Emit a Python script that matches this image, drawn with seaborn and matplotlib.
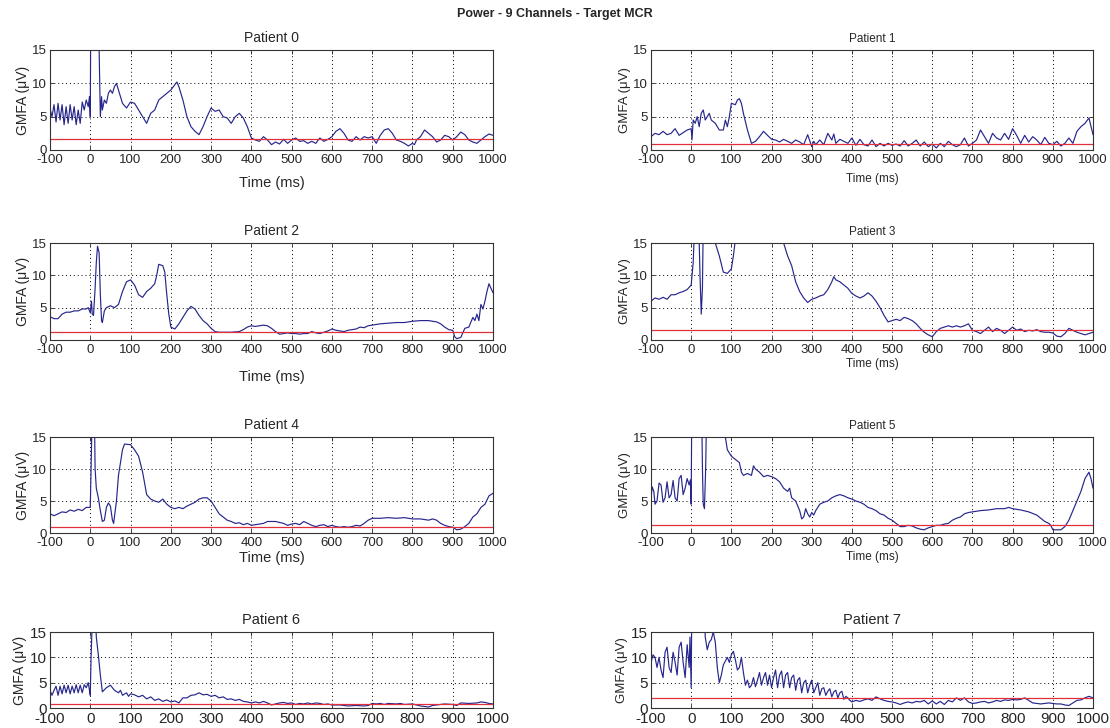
import numpy as np
import pandas as pd
import seaborn as sns
import matplotlib
matplotlib.use("Agg")
import matplotlib.pyplot as plt

# GMFA traces: (time in ms, value in uV)
p0 = [(-100, 6.2), (-95, 5.0), (-90, 6.8), (-85, 4.2), (-80, 7.0), (-75, 4.5), (-70, 6.8), (-65, 3.8),
      (-60, 6.5), (-55, 4.0), (-50, 6.8), (-45, 4.5), (-40, 6.5), (-35, 3.8), (-30, 6.0), (-25, 4.0),
      (-20, 7.2), (-15, 6.0), (-10, 7.5), (-5, 6.5), (-2, 8.0), (0, 5.0), (1, 18), (5, 25), (10, 25),
      (18, 20), (22, 15), (25, 5.0), (28, 8.0), (30, 6.0), (35, 7.5), (40, 7.0), (45, 8.5), (50, 9.0),
      (55, 8.5), (60, 9.5), (65, 10.0), (70, 9.0), (80, 7.0), (90, 6.3), (100, 7.2), (110, 7.0),
      (120, 6.0), (130, 5.0), (140, 4.0), (150, 5.5), (160, 6.0), (170, 7.5), (180, 8.0), (190, 8.5),
      (200, 9.0), (210, 9.8), (215, 10.2), (220, 9.5), (230, 7.5), (240, 5.0), (250, 3.5), (260, 2.8),
      (270, 2.3), (280, 3.5), (290, 5.0), (300, 6.3), (310, 5.8), (320, 6.0), (330, 5.0), (340, 4.8),
      (350, 4.0), (360, 5.0), (370, 5.5), (380, 4.8), (390, 3.5), (400, 1.8), (410, 1.5), (420, 1.3),
      (430, 2.0), (440, 1.5), (450, 0.8), (460, 1.2), (470, 0.9), (480, 1.6), (490, 1.0), (500, 1.5),
      (510, 1.8), (520, 1.3), (530, 1.4), (540, 1.0), (550, 1.3), (560, 1.0), (570, 1.8), (580, 1.3),
      (590, 1.6), (600, 2.0), (610, 2.8), (620, 3.2), (630, 2.5), (640, 1.5), (650, 1.3), (660, 2.0),
      (670, 1.5), (680, 2.0), (690, 1.8), (700, 2.0), (705, 1.5), (710, 1.0), (720, 2.2), (730, 3.0),
      (740, 3.2), (750, 2.5), (760, 1.5), (770, 1.3), (780, 1.0), (790, 0.6), (800, 1.0), (805, 0.8),
      (810, 1.5), (820, 2.0), (830, 3.0), (840, 2.5), (850, 2.0), (860, 1.2), (870, 1.5), (880, 2.2),
      (890, 2.0), (900, 1.5), (910, 2.0), (920, 2.7), (930, 2.3), (940, 1.5), (950, 1.2), (960, 1.0),
      (970, 1.5), (980, 2.0), (990, 2.4), (1000, 2.2)]

p1 = [(-100, 2.0), (-90, 2.5), (-80, 2.3), (-70, 2.8), (-60, 2.3), (-50, 2.5), (-40, 3.2), (-30, 2.2),
      (-20, 2.6), (-10, 3.0), (0, 3.2), (2, 1.5), (5, 4.5), (10, 4.0), (15, 5.0), (20, 3.5), (25, 5.5),
      (30, 6.0), (35, 4.5), (40, 5.0), (45, 5.5), (50, 4.5), (60, 4.0), (70, 3.0), (80, 3.0), (85, 4.5),
      (90, 3.5), (95, 5.0), (100, 7.0), (110, 6.8), (115, 7.5), (120, 7.7), (125, 7.0), (130, 5.5),
      (140, 3.0), (150, 1.0), (160, 1.3), (170, 2.0), (180, 2.8), (190, 2.2), (200, 1.6), (210, 1.5),
      (220, 1.2), (230, 1.6), (240, 1.3), (250, 1.0), (260, 1.5), (270, 1.2), (280, 0.8), (290, 2.3),
      (300, 0.5), (305, 1.3), (310, 0.8), (320, 1.5), (330, 0.8), (340, 2.5), (350, 1.5), (355, 2.4),
      (360, 1.0), (370, 1.6), (380, 1.3), (390, 1.0), (400, 1.8), (410, 0.7), (420, 1.6), (430, 0.8),
      (440, 0.6), (450, 1.5), (460, 0.5), (470, 1.0), (480, 0.6), (490, 1.0), (500, 0.7), (510, 0.9),
      (520, 0.6), (530, 1.4), (540, 0.6), (550, 1.0), (560, 1.5), (570, 0.6), (580, 1.2), (590, 0.5),
      (600, 0.9), (610, 0.3), (620, 1.0), (630, 0.5), (640, 1.3), (650, 0.8), (660, 0.5), (670, 0.8),
      (680, 1.8), (690, 0.6), (700, 1.0), (710, 1.5), (720, 3.0), (730, 2.0), (740, 1.0), (750, 2.5),
      (760, 1.8), (770, 1.5), (780, 2.5), (790, 1.6), (800, 3.2), (810, 2.2), (820, 1.0), (830, 2.2),
      (840, 1.2), (850, 2.0), (860, 1.5), (870, 0.8), (880, 1.9), (890, 1.0), (900, 0.8), (910, 1.3),
      (920, 0.6), (930, 1.0), (940, 1.8), (950, 1.0), (960, 2.8), (970, 3.5), (980, 4.0), (990, 4.8),
      (1000, 2.3)]

p2 = [(-100, 3.6), (-90, 3.3), (-80, 3.3), (-70, 4.0), (-60, 4.3), (-50, 4.3), (-40, 4.5), (-30, 4.5),
      (-20, 4.8), (-10, 4.8), (-5, 5.0), (0, 4.2), (3, 6.0), (5, 4.0), (8, 3.8), (12, 8.0), (15, 12.0),
      (18, 14.5), (22, 13.5), (25, 7.0), (28, 3.0), (30, 2.7), (35, 4.5), (40, 5.0), (50, 5.3), (60, 5.0),
      (70, 5.5), (80, 7.5), (90, 9.0), (100, 9.3), (110, 8.5), (120, 7.0), (130, 6.6), (140, 7.5),
      (150, 8.0), (160, 8.7), (165, 10.0), (170, 11.7), (180, 11.5), (185, 10.5), (190, 7.0), (195, 4.0),
      (200, 2.0), (210, 1.7), (220, 2.5), (230, 3.5), (240, 4.5), (250, 5.2), (260, 4.8), (270, 3.8),
      (280, 3.0), (290, 2.5), (300, 1.8), (310, 1.3), (320, 1.2), (330, 1.2), (350, 1.2), (370, 1.3),
      (380, 1.6), (390, 2.0), (400, 2.2), (410, 2.1), (420, 2.2), (430, 2.3), (440, 2.2), (450, 1.8),
      (460, 1.3), (470, 0.9), (480, 1.0), (490, 1.1), (500, 1.0), (510, 1.0), (520, 0.9), (530, 1.0),
      (540, 1.0), (550, 1.3), (560, 1.1), (570, 1.0), (580, 1.2), (590, 1.4), (600, 1.7), (610, 1.5),
      (620, 1.4), (630, 1.3), (640, 1.5), (650, 1.6), (660, 1.7), (670, 2.0), (680, 1.9), (690, 2.2),
      (700, 2.3), (720, 2.5), (740, 2.6), (760, 2.7), (780, 2.7), (800, 2.9), (820, 3.0), (840, 3.0),
      (860, 2.8), (870, 2.5), (880, 2.0), (890, 1.6), (900, 1.5), (905, 0.5), (910, 0.2), (920, 0.4),
      (930, 1.8), (940, 2.0), (950, 3.5), (955, 3.0), (960, 4.0), (965, 3.0), (970, 5.5), (975, 4.8),
      (980, 6.0), (985, 7.5), (990, 8.7), (1000, 7.3)]

p3 = [(-100, 6.0), (-90, 6.5), (-80, 6.3), (-70, 6.6), (-60, 6.3), (-50, 7.0), (-40, 7.0), (-30, 7.3),
      (-20, 7.5), (-10, 7.8), (0, 8.5), (5, 12), (10, 20), (18, 20), (22, 10), (25, 4.0), (28, 8.0),
      (30, 18), (35, 25), (40, 20), (50, 16), (60, 15), (70, 13), (80, 10.5), (90, 10.3), (100, 11.0),
      (105, 13), (110, 15.5), (130, 20), (200, 20), (225, 16), (230, 15), (240, 13), (250, 11.5),
      (260, 9.0), (270, 7.5), (280, 6.5), (290, 5.8), (300, 6.3), (310, 6.5), (320, 6.8), (330, 7.0),
      (340, 7.8), (350, 9.0), (355, 9.8), (360, 9.3), (370, 9.0), (380, 8.5), (390, 8.0), (400, 7.2),
      (410, 6.8), (420, 6.5), (430, 6.8), (440, 7.3), (450, 6.8), (460, 6.0), (470, 5.0), (480, 3.8),
      (490, 2.8), (500, 3.0), (510, 3.2), (520, 3.0), (530, 3.5), (540, 3.3), (550, 3.0), (560, 2.5),
      (570, 1.8), (580, 1.2), (590, 0.8), (600, 0.5), (610, 1.3), (620, 1.8), (630, 2.0), (640, 2.2),
      (650, 2.0), (660, 2.2), (670, 2.0), (680, 2.2), (690, 2.5), (700, 1.5), (710, 1.3), (720, 1.0),
      (730, 1.5), (740, 2.0), (750, 1.3), (760, 1.8), (770, 1.5), (780, 1.0), (790, 1.5), (800, 2.0),
      (810, 1.5), (820, 1.7), (830, 1.3), (840, 1.5), (850, 1.4), (860, 1.6), (870, 1.3), (880, 1.2),
      (890, 1.2), (900, 1.1), (910, 0.6), (920, 0.5), (930, 1.0), (940, 1.8), (950, 1.5), (960, 1.2),
      (970, 1.0), (980, 0.8), (990, 1.0), (1000, 1.2)]

p4 = [(-100, 3.0), (-90, 2.7), (-80, 3.0), (-70, 3.3), (-60, 3.2), (-50, 3.6), (-40, 3.4), (-30, 3.7),
      (-20, 3.5), (-10, 4.0), (0, 4.0), (2, 10), (5, 20), (10, 20), (12, 10), (15, 7.0), (20, 5.5),
      (25, 3.5), (30, 1.8), (35, 2.0), (40, 4.0), (45, 4.7), (50, 4.2), (55, 2.0), (58, 1.5), (60, 2.5),
      (65, 5.0), (70, 9.0), (80, 13.0), (85, 13.9), (100, 13.8), (110, 13.0), (120, 12.0), (130, 9.5),
      (140, 6.0), (150, 5.3), (160, 5.0), (170, 4.8), (180, 5.3), (190, 4.5), (200, 4.0), (210, 3.8),
      (220, 4.0), (230, 3.8), (240, 4.2), (250, 4.5), (260, 4.8), (270, 5.3), (280, 5.5), (290, 5.5),
      (300, 5.0), (310, 4.0), (320, 3.0), (330, 2.5), (340, 2.0), (350, 1.8), (360, 1.5), (370, 1.6),
      (380, 1.3), (390, 1.5), (400, 1.2), (420, 1.4), (430, 1.5), (440, 1.8), (460, 1.8), (480, 1.5),
      (490, 1.2), (500, 1.4), (510, 1.5), (520, 1.3), (530, 1.8), (540, 1.5), (550, 1.2), (560, 1.0),
      (570, 1.2), (580, 1.3), (590, 1.0), (600, 1.2), (610, 1.0), (620, 0.9), (630, 1.0), (640, 0.9),
      (650, 1.0), (660, 1.2), (670, 1.1), (680, 1.5), (690, 2.0), (700, 2.3), (720, 2.3), (740, 2.4),
      (760, 2.3), (780, 2.4), (800, 2.2), (820, 2.2), (840, 2.0), (850, 2.2), (860, 2.0), (870, 1.5),
      (880, 1.2), (890, 1.0), (900, 0.9), (910, 0.5), (920, 0.6), (930, 1.0), (940, 1.5), (950, 2.5),
      (960, 3.0), (970, 4.0), (980, 4.5), (990, 5.8), (1000, 6.2)]

p5 = [(-100, 5.5), (-97, 7.2), (-93, 6.5), (-90, 4.5), (-85, 5.0), (-80, 7.8), (-75, 7.5), (-70, 4.8),
      (-65, 5.5), (-60, 8.0), (-55, 5.5), (-50, 6.0), (-45, 8.2), (-40, 5.5), (-35, 5.0), (-30, 8.5),
      (-25, 9.0), (-20, 6.0), (-15, 7.0), (-10, 8.5), (-5, 7.5), (-2, 8.3), (0, 4.5), (2, 25), (25, 25),
      (28, 10), (30, 4.5), (33, 3.8), (36, 10), (40, 25), (80, 25), (85, 15), (90, 13), (100, 12.0),
      (110, 11.5), (120, 11.0), (125, 9.5), (130, 9.0), (140, 9.3), (150, 9.0), (155, 10.5), (160, 10.0),
      (170, 9.5), (180, 8.8), (190, 9.0), (200, 8.8), (210, 8.5), (220, 8.0), (230, 7.0), (240, 6.5),
      (245, 7.0), (250, 5.5), (260, 5.0), (270, 3.5), (275, 2.2), (280, 2.5), (285, 3.8), (290, 3.0),
      (295, 2.5), (300, 3.2), (305, 2.8), (310, 3.5), (320, 4.5), (330, 4.8), (340, 5.0), (350, 5.5),
      (360, 5.8), (370, 6.0), (380, 5.8), (390, 5.5), (400, 5.3), (410, 5.0), (420, 4.8), (430, 4.5),
      (440, 4.0), (450, 3.8), (460, 3.5), (470, 3.0), (480, 2.8), (490, 2.3), (500, 2.0), (510, 1.5),
      (520, 1.0), (530, 1.0), (540, 1.2), (550, 1.1), (560, 0.8), (570, 0.6), (580, 0.5), (590, 0.8),
      (600, 1.0), (610, 1.2), (620, 1.2), (630, 1.4), (640, 1.5), (650, 2.0), (660, 2.3), (670, 2.5),
      (680, 3.0), (690, 3.2), (700, 3.3), (720, 3.5), (740, 3.6), (760, 3.8), (780, 3.8), (790, 4.0),
      (800, 3.8), (820, 3.6), (840, 3.3), (860, 2.8), (870, 2.3), (880, 1.8), (890, 1.5), (895, 1.2),
      (900, 0.5), (910, 0.5), (920, 0.5), (930, 1.0), (940, 2.0), (950, 3.5), (960, 5.0), (970, 6.5),
      (980, 8.5), (990, 9.5), (995, 8.5), (1000, 7.0)]

p6 = [(-100, 3.5), (-95, 2.5), (-90, 3.5), (-85, 4.3), (-80, 2.5), (-75, 4.3), (-70, 2.8), (-65, 4.5),
      (-60, 3.0), (-55, 4.5), (-50, 2.8), (-45, 4.3), (-40, 3.0), (-35, 4.6), (-30, 3.0), (-25, 4.5),
      (-20, 3.0), (-15, 4.6), (-10, 4.0), (-5, 5.0), (-2, 3.5), (0, 2.5), (2, 10), (6, 20), (12, 20),
      (15, 14), (20, 10.5), (25, 6.5), (30, 3.2), (40, 4.0), (50, 4.5), (60, 3.5), (70, 3.0), (75, 3.5),
      (80, 2.5), (90, 3.0), (95, 2.3), (100, 2.8), (110, 2.6), (120, 2.2), (130, 2.5), (140, 1.8),
      (150, 2.2), (160, 1.5), (170, 1.8), (180, 1.3), (190, 1.6), (200, 1.2), (210, 1.4), (220, 1.0),
      (230, 2.0), (240, 2.0), (250, 2.5), (260, 2.6), (270, 3.0), (280, 2.6), (290, 2.7), (300, 2.3),
      (310, 2.5), (320, 2.0), (330, 2.2), (340, 1.7), (350, 1.8), (360, 1.5), (370, 1.7), (380, 1.3),
      (390, 1.2), (400, 1.0), (410, 1.2), (420, 1.0), (430, 1.3), (440, 1.0), (450, 0.6), (460, 0.8),
      (470, 1.0), (480, 1.1), (490, 0.9), (500, 1.0), (510, 0.7), (520, 0.9), (530, 0.8), (540, 1.0),
      (550, 0.8), (560, 1.0), (570, 0.9), (580, 0.7), (590, 0.8), (600, 0.6), (620, 0.6), (640, 0.4),
      (660, 0.5), (680, 0.4), (690, 0.5), (700, 0.9), (710, 0.8), (720, 0.9), (730, 0.7), (740, 0.9),
      (760, 0.8), (770, 0.9), (780, 0.7), (800, 0.8), (820, 0.4), (840, 0.2), (850, 0.5), (860, 0.6),
      (880, 0.8), (900, 0.7), (910, 0.5), (920, 1.0), (940, 0.9), (960, 1.0), (970, 1.2), (980, 1.1),
      (990, 0.9), (1000, 0.8)]

p7 = [(-100, 9.0), (-95, 10.5), (-90, 10.0), (-85, 8.0), (-80, 10.0), (-75, 7.5), (-70, 6.0), (-65, 11.0),
      (-60, 12.0), (-55, 8.0), (-50, 7.0), (-45, 11.0), (-40, 9.0), (-35, 6.5), (-30, 12.0), (-25, 13.0),
      (-20, 9.0), (-15, 6.0), (-10, 12.5), (-5, 8.0), (-3, 14.0), (0, 4.0), (2, 25), (30, 25), (35, 14),
      (40, 11.5), (45, 13.0), (50, 13.5), (55, 15.0), (60, 13.0), (65, 8.0), (70, 5.0), (75, 6.5),
      (80, 8.5), (90, 10.0), (95, 9.0), (100, 10.5), (105, 11.2), (110, 9.5), (115, 7.5), (120, 8.0),
      (125, 10.0), (130, 7.0), (135, 4.5), (140, 5.5), (145, 4.0), (150, 4.5), (155, 6.0), (160, 4.2),
      (165, 5.5), (170, 7.0), (175, 4.5), (180, 6.0), (185, 7.0), (190, 4.5), (195, 6.5), (200, 4.0),
      (205, 6.0), (210, 7.5), (215, 4.0), (220, 6.5), (225, 7.3), (230, 4.0), (235, 6.5), (240, 7.0),
      (245, 4.0), (250, 6.0), (255, 6.5), (260, 3.5), (265, 5.5), (270, 6.0), (275, 3.0), (280, 5.0),
      (285, 5.5), (290, 3.0), (295, 4.5), (300, 5.5), (305, 3.0), (310, 4.0), (315, 5.0), (320, 2.5),
      (325, 3.8), (330, 4.0), (335, 2.5), (340, 3.3), (345, 3.8), (350, 2.2), (355, 3.2), (360, 3.5),
      (365, 2.0), (370, 3.0), (375, 3.3), (380, 1.7), (385, 2.3), (390, 2.0), (395, 1.5), (400, 1.2),
      (410, 1.5), (420, 1.3), (430, 1.6), (440, 1.8), (450, 1.5), (460, 2.2), (470, 1.8), (480, 1.5),
      (490, 1.3), (500, 1.2), (510, 1.0), (520, 0.7), (530, 1.0), (540, 1.2), (550, 1.0), (560, 1.3),
      (570, 1.2), (580, 1.5), (590, 0.8), (600, 1.4), (610, 0.8), (620, 1.3), (630, 0.7), (640, 1.5),
      (650, 1.2), (660, 2.0), (670, 1.5), (680, 2.0), (690, 1.2), (700, 0.9), (710, 1.0), (720, 1.2),
      (730, 1.3), (740, 1.0), (750, 1.2), (760, 1.5), (770, 1.3), (780, 1.6), (790, 1.5), (800, 1.7),
      (810, 1.6), (820, 1.7), (830, 2.0), (840, 1.5), (850, 1.0), (860, 0.9), (870, 0.8), (880, 0.9),
      (890, 1.0), (900, 0.9), (910, 0.8), (920, 0.8), (930, 0.6), (940, 0.5), (950, 1.0), (960, 1.5),
      (970, 1.6), (980, 2.0), (990, 2.3), (1000, 2.0)]

traces = [p0, p1, p2, p3, p4, p5, p6, p7]
thresholds = [1.7, 0.9, 1.2, 1.5, 0.9, 1.3, 0.8, 1.9]
xticks = list(range(-100, 1001, 100))
yticks = [0, 5, 10, 15]

sns.set_style("ticks", {"xtick.direction": "in", "ytick.direction": "in",
                        "axes.edgecolor": "#333333"})
plt.rcParams["font.family"] = ["Liberation Sans", "DejaVu Sans"]
plt.rcParams["axes.unicode_minus"] = False

fig = plt.figure(figsize=(11.1, 7.28), dpi=100)
W, H = 1110.0, 728.0
# axes boxes in pixels: (left, right, top, bottom)
cols = [(50, 493), (651, 1093)]
rows = [(50, 150), (243, 340), (437, 533), (632, 708)]
# per-panel x label padding, to match where "Time (ms)" sits
xlabel_pad = [7, 5, 10, 1, 1, 1, 0, 0]

for i, data in enumerate(traces):
    r, c = divmod(i, 2)
    x0, x1 = cols[c]
    y0, y1 = rows[r]
    ax = fig.add_axes([x0 / W, 1 - y1 / H, (x1 - x0) / W, (y1 - y0) / H])
    df = pd.DataFrame(data, columns=["t", "v"])
    sns.lineplot(data=df, x="t", y="v", ax=ax, color="#26268c", linewidth=0.85,
                 estimator=None, sort=False)
    ax.axhline(thresholds[i], color="#e0303a", linewidth=0.9)
    ax.set_xlim(-100, 1000)
    ax.set_ylim(0, 15)
    ax.set_xticks(xticks)
    ax.set_yticks(yticks)
    ax.grid(True, color="black", linestyle=(0, (1, 3)), linewidth=0.7)
    lsize = 11 if r == 3 else 9.5
    ax.tick_params(axis="x", length=3, width=0.6, pad=3, labelsize=lsize)
    ax.tick_params(axis="y", length=3, width=0.6, pad=2, labelsize=lsize)
    ax.tick_params(top=True, right=True)
    for s in ax.spines.values():
        s.set_linewidth(0.8)
    tsize = 10 if c == 0 else 8.5
    if r == 3:
        tsize = 10.5
    ax.set_title(f"Patient {i}", fontsize=tsize, pad=6)
    ax.set_ylabel("GMFA (μV)", fontsize=10 if c == 0 else 9.5, labelpad=2)
    if r < 3:
        ax.set_xlabel("Time (ms)", fontsize=10.5 if c == 0 else 8.5,
                      labelpad=xlabel_pad[i])
    else:
        ax.set_xlabel("")

fig.text(0.5, 1 - 14 / H, "Power - 9 Channels - Target MCR", ha="center", va="center",
         fontsize=9, fontweight="bold")

fig.savefig("out.png", dpi=100, facecolor="white")
